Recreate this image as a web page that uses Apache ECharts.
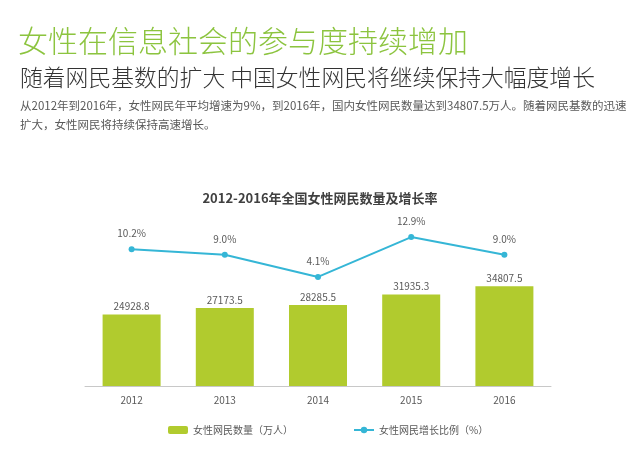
<!DOCTYPE html>
<html><head><meta charset="utf-8">
<script src="https://cdn.jsdelivr.net/npm/echarts@6/dist/echarts.min.js"></script>
<style>html,body{margin:0;padding:0;background:#fff}#c{width:640px;height:452px}</style>
</head><body><div id="c"></div>
<script>
const years = ['2012','2013','2014','2015','2016'];
const users = [24928.8, 27173.5, 28285.5, 31935.3, 34807.5];
const growth = [10.2, 9.0, 4.1, 12.9, 9.0];
const barName = '女性网民数量（万人）';
const lineName = '女性网民增长比例（%）';
const mainTitle = '女性在信息社会的参与度持续增加';
const subTitle = '随着网民基数的扩大 中国女性网民将继续保持大幅度增长';
const para1 = '从2012年到2016年，女性网民年平均增速为9%，到2016年，国内女性网民数量达到34807.5万人。随着网民基数的迅速';
const para2 = '扩大，女性网民将持续保持高速增长。';
const chartTitle = '2012-2016年全国女性网民数量及增长率';

const FONT = '"Noto Sans CJK SC","Noto Sans",sans-serif';
const chart = echarts.init(document.getElementById('c'));
chart.setOption({
  backgroundColor: '#ffffff',
  textStyle: { fontFamily: FONT },
  graphic: [
    { type: 'text', left: 18, top: 26, style: { text: mainTitle, font: '300 30px ' + FONT, fill: '#8cc43f' } },
    { type: 'text', left: 20, top: 66, style: { text: subTitle, font: '300 22.8px ' + FONT, fill: '#333333' } },
    { type: 'text', left: 20, top: 100, style: { text: para1, font: '400 11.5px ' + FONT, fill: '#595959' } },
    { type: 'text', left: 20, top: 119, style: { text: para2, font: '400 11.5px ' + FONT, fill: '#595959' } }
  ],
  title: {
    text: chartTitle, left: 'center', top: 187,
    textStyle: { fontSize: 13, fontWeight: 'bold', color: '#404040', fontFamily: FONT }
  },
  legend: [
    { data: [barName], left: 163, top: 420, itemWidth: 20, itemHeight: 8,
      textStyle: { fontSize: 10, color: '#595959' } },
    { data: [lineName], left: 348, top: 420, itemWidth: 20, itemHeight: 8,
      textStyle: { fontSize: 10, color: '#595959' } }
  ],
  grid: { left: 85, right: 89, top: 214, bottom: 66 },
  xAxis: {
    type: 'category', data: years,
    axisLine: { lineStyle: { color: '#c8c8c8', width: 1 } },
    axisTick: { show: false },
    axisLabel: { fontSize: 10, color: '#595959', margin: 9 }
  },
  yAxis: [
    { type: 'value', min: 0, max: 60000, show: false, splitLine: { show: false } },
    { type: 'value', min: -20, max: 18, show: false, splitLine: { show: false } }
  ],
  series: [
    { name: barName, type: 'bar', data: users, barWidth: 58, yAxisIndex: 0,
      itemStyle: { color: '#b1cb2e' },
      label: { show: true, position: 'top', distance: 3, fontSize: 10, color: '#595959' } },
    { name: lineName, type: 'line', data: growth, yAxisIndex: 1,
      symbol: 'circle', symbolSize: 6,
      lineStyle: { color: '#35b6d6', width: 2 },
      itemStyle: { color: '#35b6d6' },
      label: { show: true, position: 'top', distance: 8, fontSize: 10, color: '#595959',
        formatter: p => p.value.toFixed(1) + '%' } }
  ]
});
</script></body></html>
